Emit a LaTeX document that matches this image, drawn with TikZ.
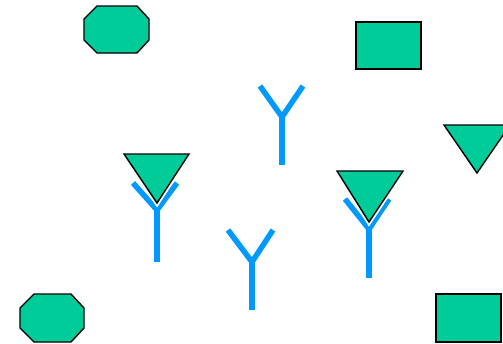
\documentclass[tikz,border=0pt]{standalone}
\definecolor{shgreen}{RGB}{0,204,153}
\definecolor{ablue}{RGB}{0,153,255}
\tikzset{
  shp/.style={fill=shgreen,draw=black,line width=1.4pt,line join=miter},
  halo/.style={draw=white,line width=5pt},
  ab/.style={draw=ablue,line width=5.5pt,line join=miter}
}
\begin{document}
\begin{tikzpicture}[x=1pt,y=-1pt]
\useasboundingbox (0,0) rectangle (503,343);
\begin{scope}
\clip (0,0) rectangle (503,343);
% octagons
\draw[shp] (97,6) -- (137,6) -- (149,19) -- (149,40) -- (137,53) -- (97,53) -- (84,40) -- (84,19) -- cycle;
\draw[shp] (34,294) -- (71,294) -- (84,308) -- (84,328) -- (71,342) -- (34,342) -- (20,328) -- (20,308) -- cycle;
% rectangles
\draw[shp] (356,22) rectangle (421,69);
\draw[shp] (436,294) rectangle (501,342);
% antibodies
\draw[ab] (133,183) -- (157,210) -- (177,183);
\draw[ab] (157,208) -- (157,262);
\draw[ab] (260,86) -- (282,117) -- (303,86);
\draw[ab] (282,115) -- (282,165);
\draw[ab] (228,230) -- (252,262) -- (273,230);
\draw[ab] (252,260) -- (252,310);
\draw[ab] (345,199) -- (369,229) -- (389,199);
\draw[ab] (369,227) -- (369,278);
% triangles
\draw[halo] (124,154) -- (189,154) -- (157,203) -- cycle;
\draw[shp] (124,154) -- (189,154) -- (157,203) -- cycle;
\draw[halo] (337,171) -- (403,171) -- (369,222) -- cycle;
\draw[shp] (337,171) -- (403,171) -- (369,222) -- cycle;
\draw[shp] (444,125) -- (510,125) -- (477,173) -- cycle;
\end{scope}
\end{tikzpicture}
\end{document}
